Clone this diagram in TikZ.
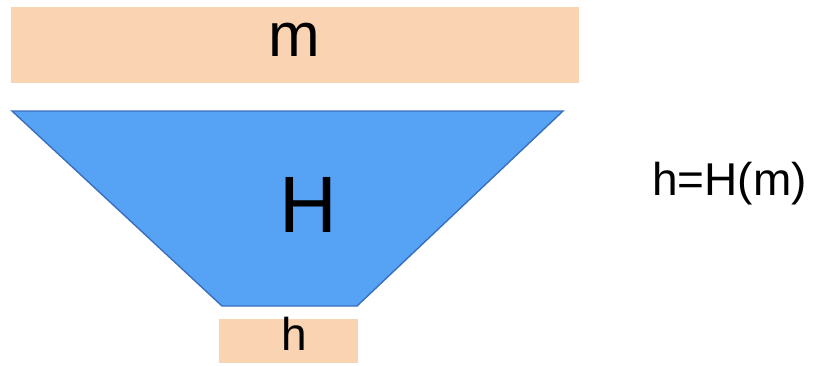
\documentclass[tikz,border=0pt]{standalone}
\usepackage{fontspec}
\setmainfont{Liberation Sans}
\usetikzlibrary{positioning}

\definecolor{peach}{HTML}{FAD3B2}
\definecolor{skyblue}{HTML}{56A3F6}
\definecolor{edgeblue}{HTML}{3A6FBC}

\tikzset{
    bar/.style={fill=peach, draw=none, inner sep=0pt},
    label/.style={inner sep=0pt, text=black}
}

\begin{document}
\begin{tikzpicture}[x=1pt, y=-1pt]
    \useasboundingbox (0,0) rectangle (813,365);

    % input bar
    \node[bar, minimum width=568pt, minimum height=76pt] (in) at (295,45) {};
    \node[label, font=\fontsize{62}{62}\selectfont] (m) at (294,40) {m};

    % hash function funnel
    \draw[fill=skyblue, draw=edgeblue, line width=1.4pt]
        (12,111) coordinate (tl) -- (563,111) coordinate (tr)
        -- (357,306) coordinate (br) -- (222,306) coordinate (bl) -- cycle;
    \node[label, font=\fontsize{80}{80}\selectfont] (H) at (308,205) {H};

    % output bar
    \node[bar, minimum width=139pt, minimum height=44pt] (out) at (288,341) {};
    \node[label, font=\fontsize{46}{46}\selectfont] (h) at (294,334) {h};

    % formula
    \node[label, anchor=base west, font=\fontsize{46}{46}\selectfont] (eq) at (652,195) {h=H(m)};
\end{tikzpicture}
\end{document}
